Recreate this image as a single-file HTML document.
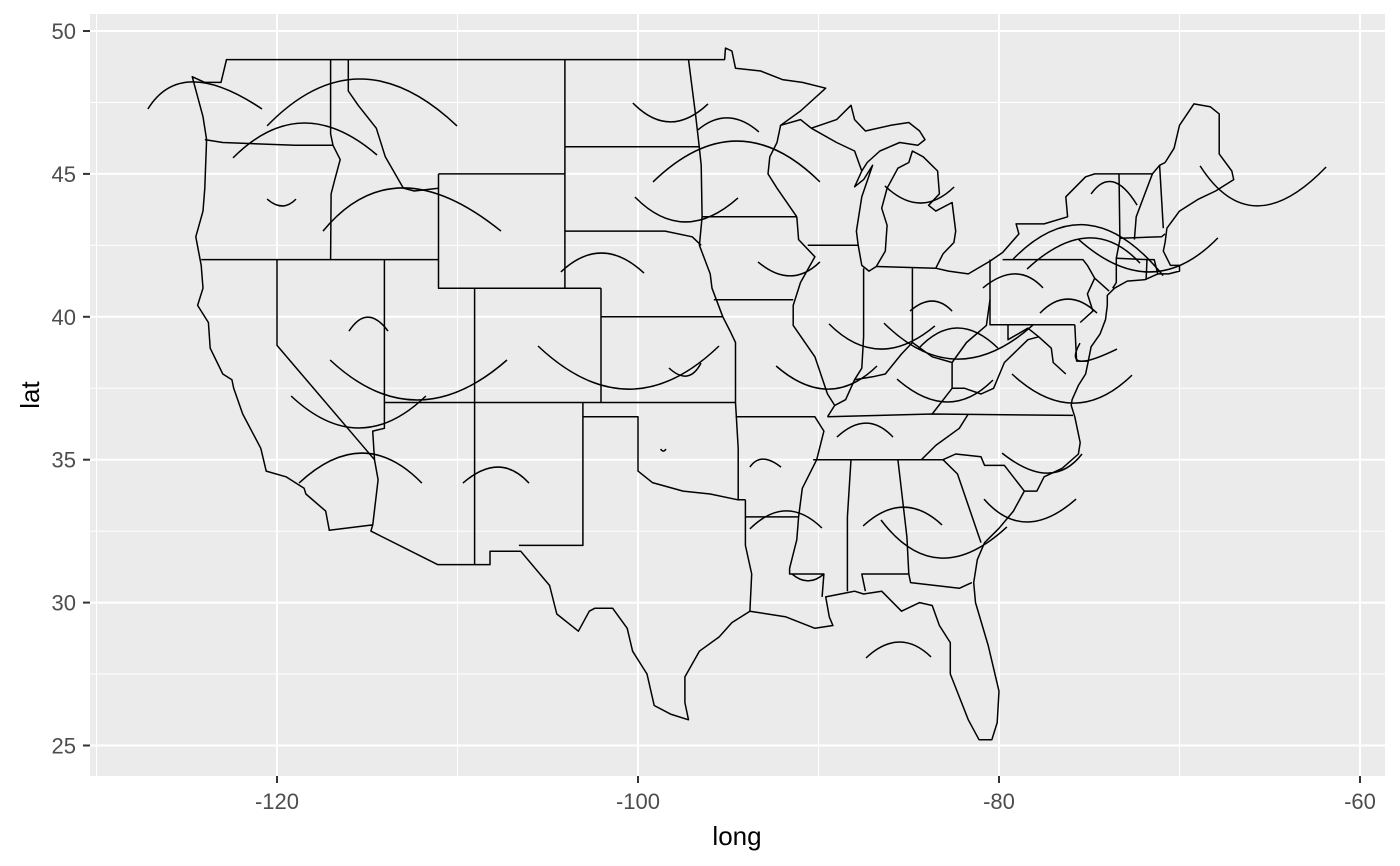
<!DOCTYPE html>
<html><head><meta charset="utf-8"><style>
html,body{margin:0;padding:0;background:#fff;}
svg{display:block;font-family:"Liberation Sans",sans-serif;}
</style></head><body>
<svg id="chart" width="1400" height="866" viewBox="0 0 1400 866">
<rect x="90" y="14" width="1295" height="762" fill="#EBEBEB"/>
<g id="grid"></g>
<g id="map" fill="none" stroke="#000" stroke-width="1.5" stroke-linejoin="round"></g>
<g id="arcs" fill="none" stroke="#000" stroke-width="1.5"></g>
<g id="axes"></g>
<text x="737" y="845" font-size="26px" fill="#000" text-anchor="middle">long</text>
<text x="0" y="0" font-size="26px" fill="#000" text-anchor="middle" transform="translate(39,395) rotate(-90)">lat</text>
</svg>
<script>
const xTicks=[-120,-100,-80,-60];
const xMinor=[-130,-110,-90,-70];
const yTicks=[25,30,35,40,45,50];
const yMinor=[27.5,32.5,37.5,42.5,47.5];
const outline=[[-122.8,49.0],[-95.2,49.0],[-95.15,49.4],[-94.8,49.3],[-94.6,48.7],[-93.2,48.6],[-92,48.3],[-90.9,48.2],[-89.6,48.0],[-91.0,47.2],[-92.1,46.7],[-91,46.9],[-90.4,46.6],[-89,46.9],[-88.2,47.4],[-88,46.9],[-87.4,46.5],[-86,46.7],[-85,46.8],[-84.4,46.5],[-84.1,46.2],[-84.5,46.0],[-85.5,46.1],[-86.6,45.8],[-87.3,45.4],[-87.6,45.1],[-88.0,44.55],[-87.5,44.8],[-87.0,45.3],[-87.6,44.2],[-87.9,43.0],[-87.8,42.5],[-87.6,41.8],[-87.2,41.6],[-86.8,41.76],[-86.3,42.3],[-86.2,43.2],[-86.5,43.8],[-86.2,44.5],[-85.6,45.2],[-85.0,45.4],[-84.8,45.8],[-84.2,45.6],[-83.4,45.1],[-83.3,44.3],[-83.9,43.9],[-83.5,43.7],[-82.6,44.0],[-82.4,43.0],[-82.5,42.6],[-83.1,42.2],[-83.5,41.7],[-82.8,41.6],[-81.7,41.5],[-80.5,41.95],[-79.8,42.25],[-78.9,42.9],[-79.05,43.25],[-77.5,43.25],[-76.2,43.5],[-76.3,44.2],[-75.2,44.9],[-74.7,45.0],[-71.5,45.0],[-71.1,45.3],[-70.8,45.4],[-70.3,45.9],[-70.0,46.7],[-69.2,47.45],[-68.3,47.35],[-67.8,47.1],[-67.8,45.7],[-67.1,45.1],[-67.0,44.8],[-68.0,44.4],[-69.0,44.1],[-70.0,43.7],[-70.7,43.1],[-70.8,42.6],[-70.9,42.3],[-70.5,41.8],[-70.0,41.8],[-70.0,41.6],[-70.6,41.5],[-71.2,41.5],[-71.9,41.3],[-72.9,41.25],[-73.6,41.0],[-74.0,40.75],[-74.0,40.4],[-74.1,39.9],[-74.4,39.4],[-74.9,38.95],[-75.05,38.45],[-75.2,38.0],[-75.6,37.6],[-75.95,37.1],[-76.0,36.9],[-75.8,36.5],[-75.5,35.6],[-75.6,35.2],[-76.5,34.7],[-77.5,34.4],[-77.9,33.9],[-78.6,33.9],[-79.2,33.2],[-80.0,32.6],[-80.8,32.1],[-81.2,31.5],[-81.4,30.7],[-81.3,30.0],[-80.6,28.5],[-80.0,26.9],[-80.1,25.8],[-80.4,25.2],[-81.1,25.2],[-81.7,25.9],[-82.2,26.7],[-82.7,27.5],[-82.7,28.6],[-83.3,29.2],[-83.7,29.9],[-84.4,30.0],[-85.4,29.7],[-86.5,30.4],[-87.5,30.3],[-88.0,30.4],[-88.4,30.35],[-89.6,30.2],[-89.4,29.5],[-89.2,29.2],[-90.2,29.1],[-91.8,29.5],[-93.8,29.7],[-94.8,29.3],[-95.5,28.8],[-96.6,28.3],[-97.4,27.4],[-97.4,26.5],[-97.2,25.9],[-98.2,26.1],[-99.1,26.4],[-99.5,27.5],[-100.3,28.3],[-100.6,29.1],[-101.4,29.8],[-102.4,29.8],[-102.7,29.7],[-103.3,29.0],[-104.5,29.6],[-104.9,30.6],[-106.5,31.8],[-108.2,31.8],[-108.2,31.33],[-111.1,31.33],[-114.8,32.5],[-114.7,32.72],[-117.1,32.53],[-117.3,33.2],[-118.4,33.8],[-118.5,34.0],[-119.5,34.4],[-120.6,34.6],[-120.9,35.4],[-121.9,36.6],[-122.4,37.5],[-122.5,37.8],[-123.0,38.0],[-123.7,38.9],[-123.8,39.8],[-124.4,40.4],[-124.1,41.0],[-124.2,41.8],[-124.5,42.8],[-124.1,43.7],[-124.0,44.5],[-123.9,46.2],[-124.1,47.0],[-124.7,48.4],[-124.0,48.2],[-123.1,48.2],[-122.8,49.0]];
const borders=[
[[-124,46.2],[-123,46.1],[-119,46],[-116.9,46]],
[[-117.03,49],[-117.03,46.4],[-116.9,46],[-116.5,45.5],[-116.8,44.8],[-117,44.3],[-117.03,42]],
[[-124.2,42],[-111.05,42]],
[[-116.05,49],[-116.05,47.9],[-115.5,47.4],[-114.5,46.6],[-114,45.6],[-113,44.5],[-112.4,44.4],[-111.05,44.5]],
[[-111.05,45],[-111.05,41],[-102.05,41]],
[[-111.05,45],[-104.05,45]],
[[-120,42],[-120,39],[-114.6,35.0],[-114.4,34.3],[-114.7,32.7]],
[[-114.05,42],[-114.05,36.1],[-114.7,36.0],[-114.6,35.0]],
[[-114.05,37],[-94.6,37]],
[[-109.05,41],[-109.05,31.33]],
[[-102.05,41],[-102.05,37]],
[[-102.05,40],[-95.3,40]],
[[-103.05,37],[-103.05,32],[-106.6,32]],
[[-103.05,36.5],[-100,36.5],[-100,34.6],[-99.2,34.2],[-97.5,33.9],[-96,33.8],[-94.5,33.6],[-94.05,33.6]],
[[-94.6,37],[-94.45,35.4],[-94.45,33.6]],
[[-94.05,33.6],[-94.05,32],[-93.7,31],[-93.8,29.7]],
[[-104.05,49],[-104.05,41]],
[[-104.05,45.95],[-96.6,45.95]],
[[-104.05,43],[-98.5,43],[-97,42.8],[-96.5,42.5]],
[[-97.2,49],[-96.8,47],[-96.6,45.9],[-96.5,45.3],[-96.45,43.5],[-96.6,42.5],[-96,41.5],[-95.9,41],[-95.3,40],[-94.9,39.5],[-94.6,39.1],[-94.6,37]],
[[-96.45,43.5],[-91.2,43.5]],
[[-95.8,40.6],[-91.4,40.6]],
[[-91.2,43.5],[-91.1,42.7],[-90.2,42.1],[-91,41.2],[-91.4,40.4],[-91.4,39.7],[-90.2,38.6],[-89.5,37.3],[-89.1,36.9],[-89.5,36.5]],
[[-94.6,36.5],[-90.2,36.5],[-89.7,36],[-90.1,35],[-90.9,34],[-91.1,33],[-91.2,32.2],[-91.6,31.2],[-91.6,31],[-89.7,31],[-89.8,30.2]],
[[-92.1,46.7],[-92.3,46.1],[-92.7,45.6],[-92.8,45],[-92.3,44.5],[-91.2,43.5]],
[[-90.4,46.6],[-89,46.1],[-88,45.8],[-87.6,45.1]],
[[-90.6,42.5],[-87.8,42.5]],
[[-87.5,41.7],[-87.5,39.3],[-87.6,38.2],[-88,37.8],[-88.5,37.1],[-89.1,36.9]],
[[-86.8,41.76],[-83.5,41.7]],
[[-84.8,41.7],[-84.8,39.1],[-85.4,38.7],[-86.3,38],[-87,37.9],[-88,37.8]],
[[-84.8,39.1],[-83.7,38.6],[-82.6,38.4],[-81.8,39.1],[-80.7,39.7],[-80.5,40.6],[-80.5,42]],
[[-89.5,36.5],[-83.7,36.6],[-75.9,36.55]],
[[-83.7,36.6],[-82.6,37.5],[-82.6,38.4]],
[[-81.7,36.6],[-82.2,36.1],[-83.5,35.5],[-84.3,35.0]],
[[-90.3,35],[-83.1,35]],
[[-88.2,35],[-88.4,33],[-88.4,30.4]],
[[-85.6,35],[-85.1,32.3],[-85,31],[-87.6,31],[-87.4,30.4]],
[[-85,31],[-84.9,30.7],[-82.2,30.5],[-81.5,30.7]],
[[-83.1,35],[-82.3,34.5],[-81,32.1]],
[[-83.1,35],[-82.4,35.2],[-81,35.1],[-80.8,34.8],[-79.7,34.8],[-78.6,33.9]],
[[-82.6,37.5],[-81.9,37.5],[-81,37.3],[-80.3,37.5],[-79.7,38.4],[-78.4,39.2],[-77.8,39.3]],
[[-80.5,40.6],[-80.5,39.72],[-79.5,39.72],[-79.5,39.2],[-78.4,39.6],[-77.8,39.3]],
[[-80.5,39.72],[-75.8,39.72]],
[[-77.8,39.3],[-77.1,38.9],[-77,38.4],[-76.3,38]],
[[-75.8,39.72],[-75.7,38.45],[-75.05,38.45]],
[[-79.8,42],[-75.35,42],[-75.1,41.8],[-74.7,41.35],[-73.9,40.9]],
[[-74.7,41.35],[-75.1,40.8],[-74.8,40.2],[-75.5,39.8]],
[[-73.35,45],[-73.3,42.7],[-73.5,42.05],[-73.5,41.2],[-73.7,41.0]],
[[-72.5,42.7],[-72.4,43.5],[-71.5,45.0]],
[[-73.3,42.75],[-71,42.8],[-70.8,42.9]],
[[-70.9,43.1],[-71.1,45.3]],
[[-73.5,42.05],[-71.8,42],[-71.4,42],[-71.2,41.5]],
[[-71.8,42],[-71.85,41.3]],
[[-94.05,33],[-91.1,33]]
];
// arcs: start, mid (apex), end points in lon/lat
const arcStart=[[-127.15,47.27],[-120.55,46.68],[-122.44,45.56],[-120.55,44.12],[-117.45,43.00],[-100.28,47.48],[-96.68,46.54],[-99.17,44.72],[-100.17,44.19],[-104.27,41.57],[-93.35,41.92],[-86.32,44.58],[-84.93,40.20],[-89.42,39.75],[-84.49,38.87],[-86.37,39.78],[-85.65,37.82],[-80.89,41.01],[-77.73,40.13],[-79.22,42.02],[-78.45,41.67],[-75.62,42.72],[-74.90,44.30],[-68.86,45.28],[-79.28,38.00],[-75.51,39.08],[-116.01,39.50],[-117.06,38.49],[-119.22,37.23],[-118.78,34.18],[-109.70,34.18],[-105.54,38.98],[-98.28,38.21],[-98.75,35.37],[-92.35,38.28],[-88.98,35.79],[-93.80,34.74],[-93.80,32.58],[-91.47,31.00],[-87.53,32.68],[-86.54,32.89],[-87.37,28.06],[-79.83,35.23],[-80.83,33.62]];
const arcMid=[[-124.65,48.22],[-115.40,48.32],[-118.56,46.78],[-119.72,43.88],[-113.02,44.51],[-98.23,46.82],[-95.01,46.96],[-94.52,46.15],[-97.40,43.32],[-101.99,42.23],[-91.58,41.43],[-84.38,43.98],[-83.71,40.55],[-86.59,38.87],[-82.33,39.61],[-82.33,38.52],[-82.88,37.02],[-79.11,41.50],[-76.18,40.62],[-75.07,43.21],[-75.12,42.76],[-71.63,41.57],[-73.68,44.72],[-65.71,43.88],[-75.90,36.98],[-75.51,38.45],[-114.96,39.99],[-112.24,37.09],[-115.46,36.11],[-115.29,35.23],[-107.76,34.74],[-100.50,37.47],[-97.29,37.93],[-98.6,35.30],[-89.47,37.47],[-87.37,36.28],[-93.07,35.02],[-91.80,33.21],[-90.58,30.76],[-85.32,33.34],[-83.27,31.56],[-85.54,28.62],[-77.34,34.53],[-78.45,32.82]];
const arcEnd=[[-120.83,47.27],[-110.03,46.68],[-114.46,45.66],[-118.95,44.12],[-107.59,43.00],[-96.12,47.45],[-93.30,46.47],[-89.92,44.72],[-94.46,44.16],[-99.67,41.53],[-89.92,41.92],[-82.49,44.54],[-82.60,40.20],[-83.55,39.68],[-80.06,38.91],[-78.12,39.71],[-80.33,37.79],[-77.56,41.01],[-74.57,40.13],[-70.91,41.44],[-72.19,41.88],[-67.87,42.76],[-72.35,43.91],[-61.88,45.24],[-72.63,37.96],[-73.46,38.87],[-113.85,39.50],[-107.26,38.49],[-111.75,37.23],[-111.97,34.18],[-106.04,34.18],[-95.51,38.98],[-96.51,38.38],[-98.45,35.37],[-86.76,38.28],[-85.87,35.79],[-92.08,34.74],[-89.81,32.61],[-89.70,31.00],[-83.16,32.72],[-79.56,32.65],[-83.77,28.10],[-75.40,35.20],[-75.73,33.62]];

const X0=90,X1=1385,Y0=14,Y1=776;
function sx(lon){return 277+(lon+120)*18.05;}
function sy(lat){return 31+(50-lat)*28.58;}
const NS='http://www.w3.org/2000/svg';
function mk(tag,attrs,parent){const e=document.createElementNS(NS,tag);for(const k in attrs)e.setAttribute(k,attrs[k]);parent.appendChild(e);return e;}
const grid=document.getElementById('grid');
xMinor.forEach(v=>{const l=mk('line',{x1:sx(v),x2:sx(v),y1:Y0,y2:Y1,stroke:'#fff','stroke-width':1},grid);

});
yMinor.forEach(v=>{const l=mk('line',{x1:X0,x2:X1,y1:sy(v),y2:sy(v),stroke:'#fff','stroke-width':1},grid);

});
xTicks.forEach(v=>{const l=mk('line',{x1:sx(v),x2:sx(v),y1:Y0,y2:Y1,stroke:'#fff','stroke-width':2},grid);

});
yTicks.forEach(v=>{const l=mk('line',{x1:X0,x2:X1,y1:sy(v),y2:sy(v),stroke:'#fff','stroke-width':2},grid);

});
const axes=document.getElementById('axes');
xTicks.forEach(v=>{const t=mk('line',{x1:sx(v),x2:sx(v),y1:Y1,y2:Y1+7,stroke:'#333','stroke-width':2},axes);


const tx=mk('text',{x:sx(v),y:809,'font-size':'22px',fill:'#4D4D4D','text-anchor':'middle'},axes);tx.textContent=v;

});
yTicks.forEach(v=>{const t=mk('line',{x1:X0-7,x2:X0,y1:sy(v),y2:sy(v),stroke:'#333','stroke-width':2},axes);


const tx=mk('text',{x:76,y:sy(v)+8,'font-size':'22px',fill:'#4D4D4D','text-anchor':'end'},axes);tx.textContent=v;

});
const map=document.getElementById('map');
function pts(a){return a.map(p=>sx(p[0]).toFixed(1)+','+sy(p[1]).toFixed(1)).join(' ');}
const o=mk('polygon',{points:pts(outline)},map);


borders.forEach(b=>{const p=mk('polyline',{points:pts(b)},map);

});
const arcs=document.getElementById('arcs');
arcStart.forEach((s,i)=>{const m=arcMid[i],e=arcEnd[i];
const x0=sx(s[0]),y0=sy(s[1]),xm=sx(m[0]),ym=sy(m[1]),x2=sx(e[0]),y2=sy(e[1]);
const cx=2*xm-(x0+x2)/2,cy=2*ym-(y0+y2)/2;
const p=mk('path',{d:`M${x0.toFixed(1)},${y0.toFixed(1)} Q${cx.toFixed(1)},${cy.toFixed(1)} ${x2.toFixed(1)},${y2.toFixed(1)}`},arcs);

});
</script>
</body></html>
